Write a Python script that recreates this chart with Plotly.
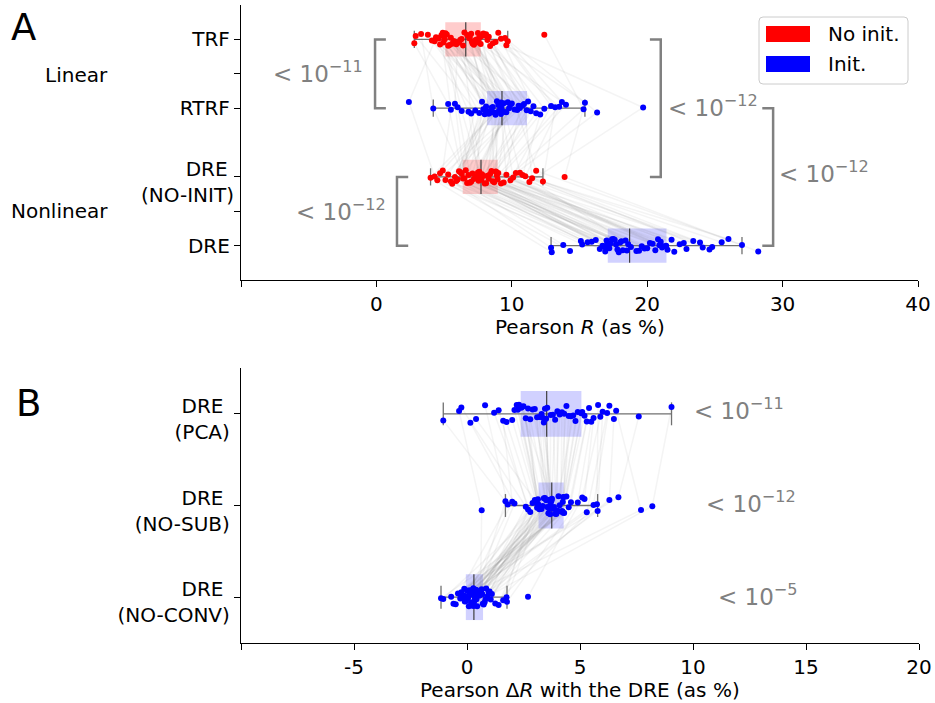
import numpy as np
import plotly.graph_objects as go

# ---------------- DATA (Pearson R in %, one value per subject, subject order) ----------------
A_TICK_LABELS = ["TRF", "RTRF", "DRE\u00a0<br>(NO-INIT)", "DRE"]
A_GROUP_LABELS = ["Linear", "Nonlinear"]

TRF = [3.8, 2.8, 4.5, 4.9, 4.3, 2.9, 4.7, 5.05, 3.3, 4.95, 4.4, 5.3, 4.1, 4.8, 5.6, 4.6, 5.1, 5.8, 5.0, 5.4,
       6.2, 5.2, 6.0, 5.5, 6.5, 5.7, 6.8, 5.9, 6.3, 7.0, 6.1, 6.9, 6.4, 7.3, 6.7, 7.1, 6.85, 7.5, 7.05, 7.75,
       7.2, 7.4, 8.1, 7.35, 7.6, 8.4, 7.55, 8.0, 7.7, 9.2, 7.9, 8.8, 8.3, 9.6, 8.2, 12.4, 8.6, 9.5, 9.0, 9.7]
RTRF = [7.9, 5.3, 8.7, 6.0, 2.4, 7.3, 9.1, 8.3, 4.2, 9.4, 6.8, 8.1, 8.9, 5.5, 9.9, 7.6, 8.5, 9.2, 6.3, 10.5,
        8.0, 9.25, 5.8, 9.6, 8.6, 7.8, 11.1, 9.0, 7.0, 9.8, 9.15, 8.2, 11.6, 8.8, 10.2, 9.3, 8.4, 19.7, 9.7, 9.05,
        10.8, 9.2, 12.4, 10.0, 9.5, 13.5, 11.2, 10.4, 14.0, 11.8, 10.6, 15.4, 11.4, 12.9, 12.1, 15.3, 10.9, 16.3, 13.2, 13.7]
DRE_NOINIT = [5.6, 6.4, 4.7, 7.0, 4.3, 6.1, 7.75, 5.3, 6.7, 4.0, 7.5, 5.9, 8.2, 4.9, 7.2, 6.3, 8.7, 5.8, 7.6, 4.5,
              6.8, 8.0, 6.5, 9.0, 5.5, 7.4, 8.5, 6.0, 7.8, 6.9, 10.1, 6.2, 7.55, 8.9, 6.6, 8.3, 7.1, 11.3, 7.7, 8.8,
              5.1, 9.6, 8.1, 7.3, 10.6, 8.6, 7.9, 11.8, 8.95, 8.4, 9.4, 13.9, 8.85, 9.9, 10.8, 9.2, 11.5, 10.3, 12.3, 11.0]
DRE = [15.2, 17.4, 12.9, 18.0, 14.3, 16.7, 18.4, 16.5, 17.05, 12.95, 18.8, 15.9, 20.6, 13.8, 17.6, 17.2, 20.2, 16.9, 19.6, 15.1,
       17.8, 18.6, 17.5, 21.1, 15.6, 18.5, 20.9, 16.2, 19.8, 17.3, 22.0, 16.8, 18.1, 21.5, 17.7, 20.8, 17.1, 23.9, 19.2, 21.4,
       17.0, 22.9, 20.4, 17.9, 24.8, 21.0, 18.2, 27.0, 21.8, 20.0, 22.7, 28.2, 21.2, 23.4, 24.6, 22.4, 26.0, 24.1, 25.5, 19.4]
A_PVALUE_EXPONENTS = ["−11", "−12", "−12", "−12"]

B_TICK_LABELS = ["DRE\u00a0<br>(PCA)", "DRE\u00a0<br>(NO-SUB)", "DRE\u00a0<br>(NO-CONV)"]
PCA = [3.55, 0.4, 5.1, 2.2, 7.6, 2.9, 1.6, 4.3, 2.45, 5.6, -0.35, 3.4, 4.7, 2.7, 3.9, 1.2, 6.3, 3.2, 2.1, 5.3,
       4.1, -0.25, 3.5, 6.0, 2.3, 4.5, 3.0, -1.05, 5.05, 2.5, 3.35, 6.6, 1.75, 3.7, 5.4, 2.8, 4.2, 0.8, 5.9, 2.25,
       4.8, 3.3, 9.05, 2.6, 4.0, 0.15, 5.2, 3.45, 2.0, 6.2, 4.4, 3.1, 1.4, 5.5, 3.8, 2.4, 6.5, 4.9, 5.8, 4.6]
NOSUB = [3.55, 3.0, 4.22, 3.15, 6.7, 3.8, 2.0, 4.3, 3.35, 5.2, 0.65, 3.7, 4.05, 3.1, 3.74, 2.8, 5.6, 3.45, 3.2, 4.6,
         3.9, 2.6, 3.65, 5.78, 3.12, 4.27, 3.62, 1.7, 4.25, 3.17, 3.76, 7.7, 2.9, 3.68, 4.5, 3.5, 4.15, 1.8, 5.1, 3.3,
         4.24, 3.6, 8.2, 3.14, 4.0, 2.1, 4.4, 3.72, 3.05, 5.3, 4.1, 3.4, 2.7, 4.9, 3.95, 3.85, 6.3, 4.2, 5.75, 4.26]
NOCONV = [0.08, 0.42, -0.25, 0.7, -0.7, 0.26, -0.08, 1.1, 0.31, -1.15, 0.6, 0.18, -0.15, 0.85, -0.05, 0.38, -0.5, 1.75, 0.12, -0.1,
          0.5, 0.29, -1.05, 0.95, 0.22, -0.07, 0.65, 0.33, -0.4, 1.4, 0.05, 0.48, 0.78, -0.2, 0.28, 1.05, 0.1, -0.6, 2.7, 0.4,
          -0.06, 0.68, 0.2, -0.3, 1.0, 0.3, 0.55, -0.12, 1.6, 0.15, 0.74, 0.35, 0.0, 1.77, 0.24, 0.45, 0.82, 0.62, 1.25, 0.9]
B_PVALUE_EXPONENTS = ["−11", "−12", "−5"]

A_X_TICKS = [-10, 0, 10, 20, 30, 40]
A_X_LABELS = ["", "0", "10", "20", "30", "40"]
B_X_TICKS = [-10, -5, 0, 5, 10, 15, 20]
B_X_LABELS = ["", "-5", "0", "5", "10", "15", "20"]
LEGEND_LABELS = ["No init.", "Init."]

# ---------------- STYLE ----------------
W, H = 935, 703
FONT = "DejaVu Sans"
RED, BLUE = "#ff0000", "#0000ff"
FILL = {RED: "rgba(255,0,0,0.2)", BLUE: "rgba(0,0,255,0.18)"}
GREY = "#808080"
TWO_LINE_SHIFT = -5


def fx(p):
    return p / W


def fy(p):
    return 1 - p / H


def jit(i, k):
    return ((i * 0.6180339887 + k * 0.4142135624 + 0.17) % 1.0 - 0.5) * 0.2


def box_stats(v):
    a = np.asarray(v, float)
    q1, med, q3 = np.percentile(a, [25, 50, 75])
    iqr = q3 - q1
    lo = a[a >= q1 - 1.5 * iqr].min()
    hi = a[a <= q3 + 1.5 * iqr].max()
    return q1, med, q3, lo, hi


fig = go.Figure()
shapes = []


def add_panel(series, colors, xa, ya):
    n = len(series[0])
    m = len(series)
    for i in range(n):
        fig.add_trace(go.Scatter(
            x=[s[i] for s in series], y=[k + jit(i, k) for k in range(m)],
            mode="lines", line=dict(color="rgba(110,110,110,0.08)", width=1.5),
            xaxis=xa, yaxis=ya, hoverinfo="skip", showlegend=False))
    for k, (s, c) in enumerate(zip(series, colors)):
        q1, med, q3, lo, hi = box_stats(s)
        shapes.append(dict(type="rect", xref=xa, yref=ya, x0=q1, x1=q3, y0=k - 0.25, y1=k + 0.25,
                           fillcolor=FILL[c], line=dict(width=0), layer="below"))
        fig.add_trace(go.Scatter(
            x=[lo, hi, None, lo, lo, None, hi, hi],
            y=[k, k, None, k - 0.125, k + 0.125, None, k - 0.125, k + 0.125],
            mode="lines", line=dict(color="#707070", width=1.3),
            xaxis=xa, yaxis=ya, hoverinfo="skip", showlegend=False))
        fig.add_trace(go.Scatter(
            x=[med, med], y=[k - 0.25, k + 0.25], mode="lines",
            line=dict(color="#404040", width=1.2),
            xaxis=xa, yaxis=ya, hoverinfo="skip", showlegend=False))
    for k, (s, c) in enumerate(zip(series, colors)):
        fig.add_trace(go.Scatter(
            x=s, y=[k + jit(i, k) for i in range(len(s))], mode="markers",
            marker=dict(color=c, size=6, line=dict(width=0)),
            xaxis=xa, yaxis=ya, showlegend=False))


add_panel([TRF, RTRF, DRE_NOINIT, DRE], [RED, BLUE, RED, BLUE], "x", "y")
add_panel([PCA, NOSUB, NOCONV], [BLUE, BLUE, BLUE], "x2", "y2")
# empty trace so the overlay axis carrying the two-line label in panel A is drawn
fig.add_trace(go.Scatter(x=[None], y=[None], xaxis="x", yaxis="y3", showlegend=False, hoverinfo="skip"))

# significance brackets (panel A), in category / value coordinates
brackets = [
    (0, 1, -0.1, 0.7),
    (2, 3, 1.52, 2.35),
    (0, 2, 21.0, 20.2),
    (1, 3, 29.3, 28.5),
]
for (c0, c1, xv, xe) in brackets:
    shapes.append(dict(type="path", xref="x", yref="y",
                       path=f"M {xe},{c0} L {xv},{c0} L {xv},{c1} L {xe},{c1}",
                       line=dict(color=GREY, width=2.5)))

annotations = []


def pval_text(e):
    return f"&lt; 10<sup>{e}</sup>"


# (x px, y px, anchor)
a_pos = [(365, 72, "right"), (388, 210, "right"), (666, 106, "left"), (777, 172, "left")]
for e, (px, py, anc) in zip(A_PVALUE_EXPONENTS, a_pos):
    annotations.append(dict(text=pval_text(e), x=fx(px), y=fy(py), xref="paper", yref="paper",
                            xanchor=anc, yanchor="middle", showarrow=False,
                            font=dict(family=FONT, size=23, color=GREY)))
b_pos = [(692, 409, "left"), (704, 502, "left"), (716, 595, "left")]
for e, (px, py, anc) in zip(B_PVALUE_EXPONENTS, b_pos):
    annotations.append(dict(text=pval_text(e), x=fx(px), y=fy(py), xref="paper", yref="paper",
                            xanchor=anc, yanchor="middle", showarrow=False,
                            font=dict(family=FONT, size=23, color=GREY)))

# group labels
for lab, py in zip(A_GROUP_LABELS, [75, 211]):
    annotations.append(dict(text=lab, x=fx(110), y=fy(py), xref="paper", yref="paper",
                            xanchor="right", yanchor="middle", showarrow=False,
                            font=dict(family=FONT, size=20, color="black")))

# panel letters
annotations.append(dict(text="A", x=fx(23), y=fy(28), xref="paper", yref="paper", xanchor="center",
                        yanchor="middle", showarrow=False, font=dict(family=FONT, size=37, color="black")))
annotations.append(dict(text="B", x=fx(28), y=fy(403), xref="paper", yref="paper", xanchor="center",
                        yanchor="middle", showarrow=False, font=dict(family=FONT, size=37, color="black")))

# axis titles
annotations.append(dict(text="Pearson <i>R</i> (as %)", x=fx(580), y=fy(327), xref="paper", yref="paper",
                        xanchor="center", yanchor="middle", showarrow=False,
                        font=dict(family=FONT, size=20, color="black")))
annotations.append(dict(text="Pearson Δ<i>R</i> with the DRE (as %)", x=fx(580), y=fy(690), xref="paper",
                        yref="paper", xanchor="center", yanchor="middle", showarrow=False,
                        font=dict(family=FONT, size=20, color="black")))


# legend (drawn manually)
def rrect(x0, y0, x1, y1, r):
    X, Y = fx, fy
    return (f"M {X(x0 + r)},{Y(y0)} L {X(x1 - r)},{Y(y0)} Q {X(x1)},{Y(y0)} {X(x1)},{Y(y0 + r)} "
            f"L {X(x1)},{Y(y1 - r)} Q {X(x1)},{Y(y1)} {X(x1 - r)},{Y(y1)} L {X(x0 + r)},{Y(y1)} "
            f"Q {X(x0)},{Y(y1)} {X(x0)},{Y(y1 - r)} L {X(x0)},{Y(y0 + r)} Q {X(x0)},{Y(y0)} {X(x0 + r)},{Y(y0)} Z")


shapes.append(dict(type="path", xref="paper", yref="paper", path=rrect(759, 17, 908, 84, 4),
                   fillcolor="rgba(255,255,255,0.8)", line=dict(color="#cccccc", width=1), layer="above"))
for lab, col, py in zip(LEGEND_LABELS, [RED, BLUE], [34, 64]):
    shapes.append(dict(type="rect", xref="paper", yref="paper", x0=fx(766), x1=fx(810),
                       y0=fy(py - 8), y1=fy(py + 8), fillcolor=col, line=dict(width=0), layer="above"))
    annotations.append(dict(text=lab, x=fx(826), y=fy(py), xref="paper", yref="paper", xanchor="left",
                            yanchor="middle", showarrow=False, font=dict(family=FONT, size=20, color="black")))

axis_common = dict(showgrid=False, zeroline=False, showline=True, linecolor="black", linewidth=1.3,
                   ticks="outside", ticklen=6, tickwidth=1.3, tickcolor="black", automargin=False,
                   tickfont=dict(family=FONT, size=20, color="black"), fixedrange=True)

fig.update_layout(
    template="none",
    width=W, height=H, autosize=False,
    margin=dict(l=0, r=0, t=0, b=0, pad=0, autoexpand=False),
    paper_bgcolor="white", plot_bgcolor="white",
    showlegend=False,
    xaxis=dict(domain=[fx(241), fx(918)], anchor="y", range=[-10, 40],
               tickmode="array", tickvals=A_X_TICKS, ticktext=A_X_LABELS, **axis_common),
    yaxis=dict(domain=[fy(280), fy(5)], anchor="x", range=[3.5, -0.5],
               tickmode="array", tickvals=[0, 0.5, 1, 2, 2.5, 3],
               ticktext=[A_TICK_LABELS[0], "", A_TICK_LABELS[1], "", "", A_TICK_LABELS[3]],
               ticklabelstandoff=0, **axis_common),
    yaxis3=dict(domain=[fy(280), fy(5)], anchor="x", overlaying="y", side="left", range=[3.5, -0.5],
                tickmode="array", tickvals=[2], ticktext=[A_TICK_LABELS[2]],
                showgrid=False, zeroline=False, showline=False, ticks="", automargin=False,
                ticklabelstandoff=6, ticklabelshift=TWO_LINE_SHIFT,
                tickfont=dict(family=FONT, size=20, color="black"), fixedrange=True),
    xaxis2=dict(domain=[fx(241), fx(919)], anchor="y2", range=[-10, 20],
                tickmode="array", tickvals=B_X_TICKS, ticktext=B_X_LABELS, **axis_common),
    yaxis2=dict(domain=[fy(643), fy(368)], anchor="x2", range=[2.5, -0.5],
                tickmode="array", tickvals=[0, 1, 2], ticktext=B_TICK_LABELS,
                ticklabelstandoff=0, ticklabelshift=TWO_LINE_SHIFT, **axis_common),
    shapes=shapes,
    annotations=annotations,
)

fig.write_html(
    "out.html",
    config={"responsive": False, "displayModeBar": False},
    post_script="document.body.style.margin='0';document.body.style.padding='0';"
                "document.body.style.overflow='hidden';",
)
